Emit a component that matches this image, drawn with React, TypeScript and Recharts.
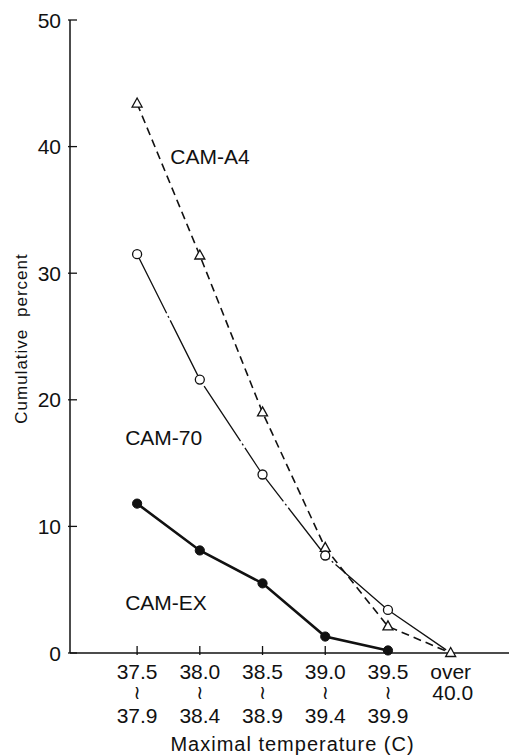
import React from 'react';
import { LineChart, Line, XAxis, YAxis, ReferenceDot } from 'recharts';

const xIndex = [0, 1, 2, 3, 4, 5];
const tickTop = ['37.5', '38.0', '38.5', '39.0', '39.5', 'over'];
const tickBottom = ['37.9', '38.4', '38.9', '39.4', '39.9', '40.0'];
const camA4 = [43.4, 31.4, 19.0, 8.3, 2.1, 0];
const cam70 = [31.5, 21.6, 14.1, 7.7, 3.4, 0];
const camEX: (number | null)[] = [11.8, 8.1, 5.5, 1.3, 0.2, null];
const yTicks = [0, 10, 20, 30, 40, 50];

const data = xIndex.map((x, i) => ({ x, a4: camA4[i], c70: cam70[i], ex: camEX[i] }));

const FONT = '"Liberation Sans", Arial, sans-serif';
const INK = '#111';

const YTick = (props: any) => {
  const { x, y, payload } = props;
  return (
    <g>
      <line x1={x} x2={x + 9} y1={y} y2={y} stroke={INK} strokeWidth={1.3} />
      <text x={x - 7} y={y} dy="0.36em" textAnchor="end" fontSize={21} fontFamily={FONT} fill={INK}>
        {payload.value}
      </text>
    </g>
  );
};

const XTick = (props: any) => {
  const { x, y, payload } = props;
  const i = payload.value as number;
  const isOver = i === tickTop.length - 1;
  return (
    <g>
      {!isOver && <line x1={x} x2={x} y1={y} y2={y - 9} stroke={INK} strokeWidth={1.3} />}
      <text x={x} y={y + 23.5} textAnchor="middle" fontSize={21} fontFamily={FONT} fill={INK}>
        {tickTop[i]}
      </text>
      {isOver ? (
        <text x={x + 2} y={y + 44.5} textAnchor="middle" fontSize={21} fontFamily={FONT} fill={INK}>
          {tickBottom[i]}
        </text>
      ) : (
        <>
          <text x={x} y={y + 44} textAnchor="middle" fontSize={19} fontFamily='"DejaVu Sans", sans-serif' fill={INK}>
            ≀
          </text>
          <text x={x} y={y + 67.5} textAnchor="middle" fontSize={21} fontFamily={FONT} fill={INK}>
            {tickBottom[i]}
          </text>
        </>
      )}
    </g>
  );
};

const Triangle = (props: any) => {
  const { cx, cy } = props;
  if (cx == null || cy == null) return null;
  return (
    <polygon
      points={`${cx},${cy - 5.5} ${cx - 5},${cy + 3.5} ${cx + 5},${cy + 3.5}`}
      fill="#fff"
      stroke={INK}
      strokeWidth={1.3}
    />
  );
};

const OpenCircle = (props: any) => {
  const { cx, cy, index } = props;
  if (cx == null || cy == null || index === xIndex.length - 1) return null;
  return <circle cx={cx} cy={cy} r={4.5} fill="#fff" stroke={INK} strokeWidth={1.3} />;
};

const FilledCircle = (props: any) => {
  const { cx, cy } = props;
  if (cx == null || cy == null) return null;
  return <circle cx={cx} cy={cy} r={4.6} fill={INK} stroke={INK} strokeWidth={1} />;
};

const seriesLabel = (text: string) => (props: any) => {
  const vb = props.viewBox || {};
  return (
    <text x={vb.x} y={vb.y} dy="0.36em" textAnchor="start" fontSize={21} fontFamily={FONT} fill={INK}>
      {text}
    </text>
  );
};

export default function App() {
  return (
    <div style={{ position: 'absolute', left: 0, top: 0, width: 509, height: 756, background: '#fff' }}>
      <LineChart width={509} height={756} data={data} margin={{ top: 20, right: 0, left: 8, bottom: 0 }}>
        <XAxis
          dataKey="x"
          type="number"
          domain={[-1.07, 5.93]}
          ticks={xIndex}
          interval={0}
          allowDataOverflow
          height={103}
          tickSize={0}
          tickLine={false}
          axisLine={{ stroke: INK, strokeWidth: 1.5 }}
          tick={<XTick />}
          label={{
            content: (p: any) => {
              const vb = p.viewBox || {};
              return (
                <text
                  x={vb.x + vb.width / 2 + 3}
                  y={vb.y + vb.height - 5}
                  textAnchor="middle"
                  fontSize={20}
                  letterSpacing={1}
                  fontFamily={FONT}
                  fill={INK}
                >
                  Maximal temperature (C)
                </text>
              );
            },
          }}
        />
        <YAxis
          type="number"
          domain={[0, 50]}
          ticks={yTicks}
          interval={0}
          width={62}
          tickSize={0}
          tickLine={false}
          axisLine={{ stroke: INK, strokeWidth: 1.5 }}
          tick={<YTick />}
          label={{
            content: (p: any) => {
              const vb = p.viewBox || {};
              const cx = 27;
              const cy = vb.y + vb.height / 2 + 2;
              return (
                <text
                  x={cx}
                  y={cy}
                  transform={`rotate(-90, ${cx}, ${cy})`}
                  textAnchor="middle"
                  fontSize={17}
                  letterSpacing={1}
                  wordSpacing={6}
                  fontFamily={FONT}
                  fill={INK}
                >
                  Cumulative percent
                </text>
              );
            },
          }}
        />
        <Line
          dataKey="a4"
          stroke={INK}
          strokeWidth={1.6}
          strokeDasharray="8 5"
          dot={<Triangle />}
          activeDot={false}
          isAnimationActive={false}
        />
        <Line
          dataKey="c70"
          stroke={INK}
          strokeWidth={1.3}
          strokeDasharray="66 3 2 3"
          dot={<OpenCircle />}
          activeDot={false}
          isAnimationActive={false}
        />
        <Line
          dataKey="ex"
          stroke={INK}
          strokeWidth={2.6}
          dot={<FilledCircle />}
          activeDot={false}
          connectNulls={false}
          isAnimationActive={false}
        />
        <ReferenceDot x={0.53} y={39.2} r={0} fill="none" stroke="none" label={{ content: seriesLabel('CAM-A4') }} />
        <ReferenceDot x={-0.19} y={17.0} r={0} fill="none" stroke="none" label={{ content: seriesLabel('CAM-70') }} />
        <ReferenceDot x={-0.19} y={4.0} r={0} fill="none" stroke="none" label={{ content: seriesLabel('CAM-EX') }} />
      </LineChart>
    </div>
  );
}
